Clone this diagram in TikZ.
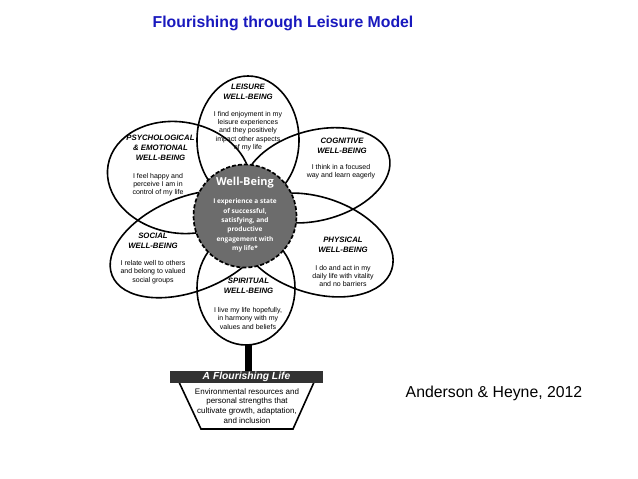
\documentclass[tikz,border=0pt]{standalone}
\usepackage{fontspec}
\setmainfont{Liberation Sans}
\newfontfamily\wbfont{Open Sans}
\usetikzlibrary{shapes.geometric}
\definecolor{titleblue}{RGB}{25,25,190}
\definecolor{centergray}{RGB}{108,108,108}
\definecolor{bannergray}{RGB}{50,50,50}
\begin{document}
\begin{tikzpicture}[x=1pt,y=-1pt,
  petal/.style={draw=black, line width=1.6pt},
  ptitle/.style={font=\fontsize{7.8}{10}\selectfont\bfseries\itshape, align=center, inner sep=0pt},
  pbody/.style={font=\fontsize{7}{8.3}\selectfont, align=center, inner sep=0pt},
  wbtitle/.style={font=\wbfont\fontsize{11}{13}\selectfont\bfseries, text=white, inner sep=0pt},
  wbbody/.style={font=\wbfont\fontsize{6.5}{9.45}\selectfont\bfseries, text=white, align=center, inner sep=0pt},
  basetext/.style={font=\fontsize{8}{9.7}\selectfont, align=center, inner sep=0pt}]
\useasboundingbox (0,0) rectangle (638,479);
\fill[white] (0,0) rectangle (638,479);
% title
\node[font=\fontsize{15.8}{18}\selectfont\bfseries, text=titleblue, inner sep=0pt] (title) at (283,23) {Flourishing through Leisure Model};
\node[font=\fontsize{15.8}{18}\selectfont, inner sep=0pt] (credit) at (494,393) {Anderson \& Heyne, 2012};
% petals
\draw[petal] (248,140) ellipse [x radius=51, y radius=64];
\draw[petal] (246,288) ellipse [x radius=49, y radius=57];
\draw[petal, shift={(179,177.5)}, rotate=-10] (0,0) ellipse [x radius=72, y radius=55.5];
\draw[petal, shift={(316.6,175.3)}, rotate=15] (0,0) ellipse [x radius=75, y radius=45];
\draw[petal, shift={(190,244)}, rotate=22] (0,0) ellipse [x radius=84, y radius=47];
\draw[petal, shift={(315.6,245)}, rotate=-18] (0,0) ellipse [x radius=80, y radius=48];
% centre
\node[circle, minimum size=103pt, fill=centergray, draw=black, line width=1.7pt, dash pattern=on 4pt off 2pt] (wb) at (245,216) {};
\node[wbtitle] (wbt) at (245,182.5) {Well-Being};
\node[wbbody] (wbb) at (245,225.5) {I experience a state\\of successful,\\satisfying, and\\productive\\engagement with\\my life*};
% petal texts
\node[ptitle] (lt) at (248,92) {LEISURE\\WELL-BEING};
\node[pbody] (lb) at (248,131) {I find enjoyment in my\\leisure experiences\\and they positively\\impact other aspects\\of my life};
\node[ptitle] (pt) at (160.5,148) {PSYCHOLOGICAL\\\& EMOTIONAL\\WELL-BEING};
\node[pbody] (pb) at (158,184.5) {I feel happy and\\perceive I am in\\control of my life};
\node[ptitle] (ct) at (342,145.5) {COGNITIVE\\WELL-BEING};
\node[pbody] (cb) at (341,172) {I think in a focused\\way and learn eagerly};
\node[ptitle] (st) at (153,241) {SOCIAL\\WELL-BEING};
\node[pbody] (sb) at (153,272) {I relate well to others\\and belong to valued\\social groups};
\node[ptitle] (pht) at (343,244.7) {PHYSICAL\\WELL-BEING};
\node[pbody] (phb) at (343,276) {I do and act in my\\daily life with vitality\\and no barriers};
\node[ptitle] (spt) at (248.5,286) {SPIRITUAL\\WELL-BEING};
\node[pbody] (spb) at (248,318.3) {I live my life hopefully,\\in harmony with my\\values and beliefs};
% base
\draw[line width=1.6pt, fill=white] (178,380) -- (201,429) -- (293,429) -- (315,380) -- cycle;
\node[fill=bannergray, minimum width=153pt, minimum height=12pt, inner sep=0pt, text=white, font=\fontsize{10.3}{12}\selectfont\bfseries\itshape] (banner) at (246.5,377) {A Flourishing Life};
\node[basetext] (bt) at (247,405.7) {Environmental resources and\\personal strengths that\\cultivate growth, adaptation,\\and inclusion};
\coordinate (sptip) at (248.5,345);
\draw[line width=7pt] (sptip) -- (banner.north -| sptip);
\end{tikzpicture}
\end{document}
